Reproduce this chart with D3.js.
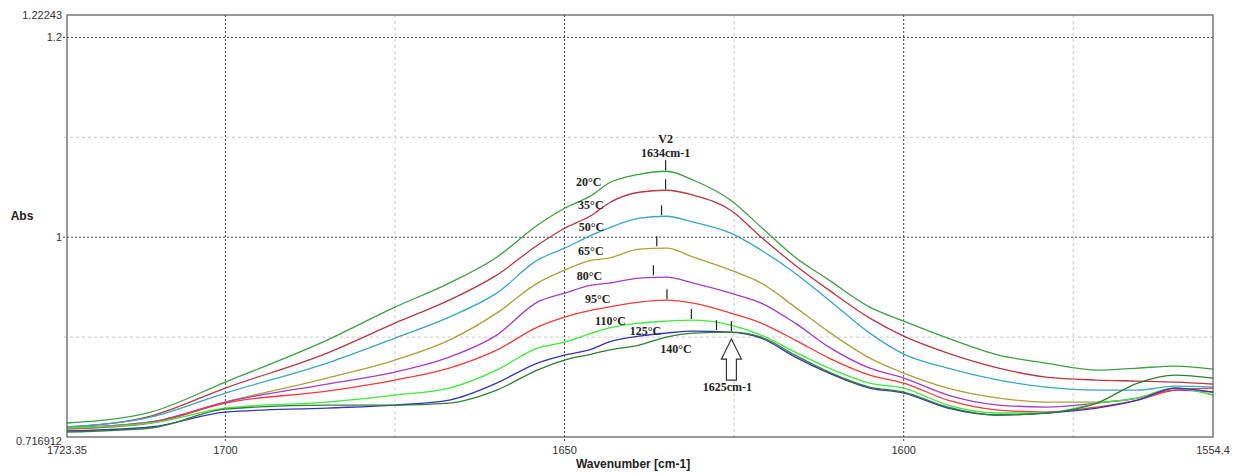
<!DOCTYPE html>
<html>
<head>
<meta charset="utf-8">
<script src="https://cdn.jsdelivr.net/npm/d3@7.9.0/dist/d3.min.js"></script>
<style>
  html, body { margin: 0; padding: 0; background: #fff; }
  svg { display: block; }
  .tick-label { font-family: "Liberation Sans", Arial, sans-serif; font-size: 11px; fill: #333; }
  .axis-title { font-family: "Liberation Sans", Arial, sans-serif; font-size: 12px; font-weight: bold; fill: #222; }
  .note { font-family: "Liberation Serif", "Times New Roman", serif; font-size: 12px; font-weight: bold; fill: #222; }
</style>
</head>
<body>
<svg id="chart" width="1234" height="473"></svg>
<script>
// wavenumbers (cm-1) where the curves were read
const wavenumbers = [1723.35, 1711, 1700, 1685, 1675, 1667, 1660, 1654, 1650, 1646, 1643.5, 1639, 1635, 1631,
  1625.5, 1621, 1616, 1611, 1605, 1600, 1593.5, 1586, 1579, 1571.5, 1565.5, 1560, 1554.4];

const temps = ['20°C', '35°C', '50°C', '65°C', '80°C', '95°C', '110°C', '125°C', '140°C'];
const colors = ['#3f9f45', '#b53a3f', '#3aa6bf', '#a9a23c', '#a43cc4', '#f23a3a', '#3ee83e', '#3535b5', '#2f7f34'];

const abs20 = [0.814, 0.825, 0.855, 0.897, 0.930, 0.954, 0.980, 1.012, 1.029, 1.042, 1.054, 1.063, 1.066, 1.057,
  1.037, 1.010, 0.980, 0.957, 0.930, 0.916, 0.899, 0.882, 0.874, 0.867, 0.869, 0.871, 0.868];
const abs35 = [0.810, 0.821, 0.849, 0.884, 0.914, 0.937, 0.962, 0.992, 1.009, 1.022, 1.034, 1.045, 1.047, 1.042,
  1.027, 1.000, 0.972, 0.947, 0.919, 0.901, 0.884, 0.869, 0.860, 0.857, 0.856, 0.855, 0.853];
const abs50 = [0.810, 0.820, 0.844, 0.874, 0.899, 0.920, 0.944, 0.977, 0.989, 1.002, 1.009, 1.019, 1.021, 1.015,
  1.004, 0.987, 0.964, 0.937, 0.904, 0.883, 0.869, 0.857, 0.850, 0.847, 0.847, 0.851, 0.850];
const abs65 = [0.809, 0.815, 0.835, 0.859, 0.877, 0.897, 0.924, 0.954, 0.967, 0.977, 0.979, 0.988, 0.989, 0.980,
  0.967, 0.954, 0.930, 0.905, 0.879, 0.864, 0.849, 0.839, 0.835, 0.835, 0.839, 0.849, 0.842];
const abs80 = [0.809, 0.815, 0.835, 0.853, 0.865, 0.880, 0.902, 0.935, 0.944, 0.952, 0.954, 0.959, 0.960, 0.954,
  0.944, 0.934, 0.914, 0.890, 0.869, 0.859, 0.842, 0.832, 0.830, 0.834, 0.839, 0.847, 0.845];
const abs95 = [0.808, 0.814, 0.834, 0.846, 0.857, 0.869, 0.887, 0.910, 0.920, 0.927, 0.930, 0.935, 0.937, 0.934,
  0.924, 0.914, 0.897, 0.879, 0.862, 0.854, 0.837, 0.827, 0.825, 0.830, 0.837, 0.847, 0.849];
const abs110 = [0.809, 0.814, 0.829, 0.835, 0.842, 0.849, 0.867, 0.889, 0.895, 0.904, 0.909, 0.914, 0.916, 0.917,
  0.912, 0.902, 0.885, 0.869, 0.854, 0.849, 0.832, 0.824, 0.824, 0.834, 0.839, 0.849, 0.842];
const abs125 = [0.806, 0.810, 0.825, 0.829, 0.832, 0.837, 0.854, 0.874, 0.882, 0.888, 0.895, 0.901, 0.904, 0.906,
  0.905, 0.899, 0.880, 0.864, 0.849, 0.844, 0.829, 0.822, 0.824, 0.829, 0.837, 0.849, 0.845];
const abs140 = [0.805, 0.809, 0.828, 0.832, 0.832, 0.834, 0.847, 0.867, 0.877, 0.883, 0.887, 0.892, 0.900, 0.904,
  0.905, 0.900, 0.882, 0.865, 0.850, 0.845, 0.830, 0.822, 0.824, 0.834, 0.854, 0.862, 0.859];
const series = [abs20, abs35, abs50, abs65, abs80, abs95, abs110, abs125, abs140];

// peak markers (wavenumber, absorbance)
const peakWn = [1635.1, 1635.1, 1635.7, 1636.4, 1636.9, 1634.9, 1631.3, 1627.6, 1625.4];
const peakAbs = [1.066, 1.047, 1.021, 0.990, 0.961, 0.937, 0.917, 0.906, 0.905];

// label anchors (wavenumber, absorbance) for temperature labels
const labelWn = [1648.3, 1648.0, 1647.9, 1648.0, 1648.2, 1647.0, 1645.5, 1640.4, 1635.9];
const labelAbs = [1.051, 1.028, 1.006, 0.982, 0.957, 0.934, 0.912, 0.902, 0.884];

const xTicksMajor = [1700, 1650, 1600];
const xTicksMinor = [1675, 1625, 1575];
const yTicksMajor = [1.2, 1.0];
const yTicksMinor = [1.1, 0.9];
const xDomain = [1723.35, 1554.4];
const yDomain = [0.8, 1.22243];
const xEndLabels = ['1723.35', '1554.4'];
const yEndLabels = ['0.716912', '1.22243'];

const svg = d3.select('#chart');
const plotLeft = 67, plotRight = 1213, plotTop = 15, plotBottom = 437;

const x = d3.scaleLinear().domain(xDomain).range([plotLeft, plotRight]);
const y = d3.scaleLinear().domain(yDomain).range([plotBottom, plotTop]);

// grid
const grid = svg.append('g');
grid.selectAll('.vminor').data(xTicksMinor).enter().append('line')
  .attr('x1', d => x(d)).attr('x2', d => x(d)).attr('y1', plotTop).attr('y2', plotBottom + 3)
  .attr('stroke', '#c8c8c8').attr('stroke-dasharray', '3,3');
grid.selectAll('.hminor').data(yTicksMinor).enter().append('line')
  .attr('x1', plotLeft - 3).attr('x2', plotRight).attr('y1', d => y(d)).attr('y2', d => y(d))
  .attr('stroke', '#c8c8c8').attr('stroke-dasharray', '3,3');
grid.selectAll('.vmajor').data(xTicksMajor).enter().append('line')
  .attr('x1', d => x(d)).attr('x2', d => x(d)).attr('y1', plotTop).attr('y2', plotBottom + 4)
  .attr('stroke', '#444').attr('stroke-dasharray', '2,2');
grid.selectAll('.hmajor').data(yTicksMajor).enter().append('line')
  .attr('x1', plotLeft - 4).attr('x2', plotRight).attr('y1', d => y(d)).attr('y2', d => y(d))
  .attr('stroke', '#444').attr('stroke-dasharray', '2,2');

// curves
const line = d3.line()
  .x((d, i) => x(wavenumbers[i]))
  .y(d => y(d))
  .curve(d3.curveMonotoneX);

svg.append('g').selectAll('path').data(series).enter().append('path')
  .attr('d', d => line(d))
  .attr('fill', 'none')
  .attr('stroke', (d, i) => colors[i])
  .attr('stroke-width', 1.3);

// frame
svg.append('rect')
  .attr('x', plotLeft).attr('y', plotTop).attr('width', plotRight - plotLeft).attr('height', plotBottom - plotTop)
  .attr('fill', 'none').attr('stroke', '#555').attr('stroke-width', 1.2);

// tick labels
svg.selectAll('.xlab').data(xTicksMajor).enter().append('text')
  .attr('class', 'tick-label').attr('x', d => x(d)).attr('y', 454)
  .attr('text-anchor', 'middle').text(d => d);
svg.selectAll('.xend').data(xDomain).enter().append('text')
  .attr('class', 'tick-label').attr('x', d => x(d)).attr('y', 454)
  .attr('text-anchor', 'middle').text((d, i) => xEndLabels[i]);
svg.selectAll('.ylab').data(yTicksMajor).enter().append('text')
  .attr('class', 'tick-label').attr('x', plotLeft - 5).attr('y', d => y(d) + 4)
  .attr('text-anchor', 'end').text(d => d3.format('')(d));
svg.selectAll('.yend').data(yDomain).enter().append('text')
  .attr('class', 'tick-label').attr('x', plotLeft - 5).attr('y', (d, i) => i === 0 ? y(d) + 8 : y(d) + 4)
  .attr('text-anchor', 'end').text((d, i) => yEndLabels[i]);

svg.append('text').attr('class', 'axis-title')
  .attr('x', 633).attr('y', 468).attr('text-anchor', 'middle').text('Wavenumber [cm-1]');
svg.append('text').attr('class', 'axis-title')
  .attr('x', 22).attr('y', 220).attr('text-anchor', 'middle').text('Abs');

// peak ticks
svg.append('g').selectAll('line').data(peakWn).enter().append('line')
  .attr('x1', d => x(d)).attr('x2', d => x(d))
  .attr('y1', (d, i) => y(peakAbs[i]) - 1).attr('y2', (d, i) => y(peakAbs[i]) - 11)
  .attr('stroke', '#222').attr('stroke-width', 1.2);

// temperature labels
svg.append('g').selectAll('text').data(temps).enter().append('text')
  .attr('class', 'note')
  .attr('x', (d, i) => x(labelWn[i]))
  .attr('y', (d, i) => y(labelAbs[i]))
  .text(d => d);

// V2 / 1634cm-1 annotation
svg.append('text').attr('class', 'note').attr('x', x(1635.1)).attr('y', 143)
  .attr('text-anchor', 'middle').text('V2');
svg.append('text').attr('class', 'note').attr('x', x(1635.1)).attr('y', 157)
  .attr('text-anchor', 'middle').text('1634cm-1');

// hollow arrow at 1625 cm-1
const ax = x(1625.4);
const arrowTop = y(0.898);
const arrow = [[0, 0], [10, 20], [5, 20], [5, 41], [-5, 41], [-5, 20], [-10, 20]];
svg.append('polygon')
  .attr('points', arrow.map(p => [ax + p[0], arrowTop + p[1]].join(',')).join(' '))
  .attr('fill', '#fff').attr('stroke', '#333').attr('stroke-width', 1.2);
svg.append('text').attr('class', 'note').attr('x', ax - 4).attr('y', 391)
  .attr('text-anchor', 'middle').text('1625cm-1');
</script>
</body>
</html>
